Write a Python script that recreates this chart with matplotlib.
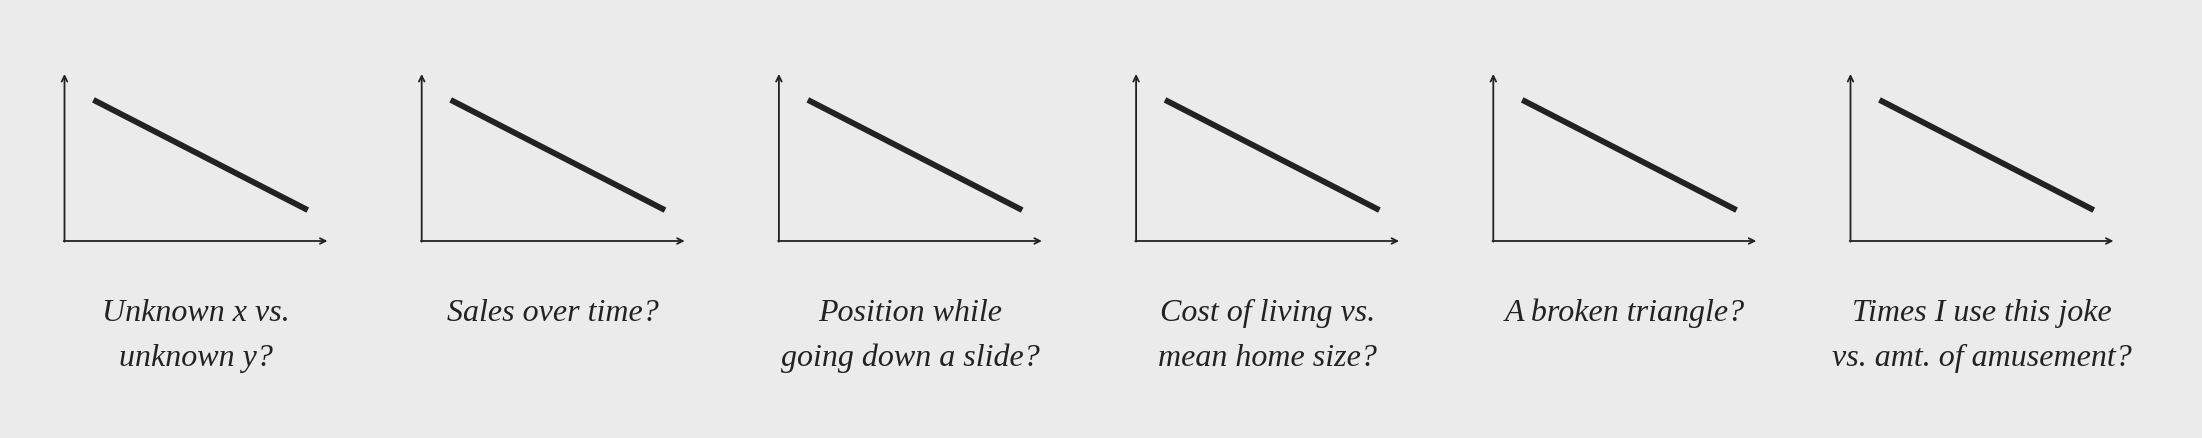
import matplotlib.pyplot as plt

# ------------------------------
# Data
# ------------------------------

captions = [
    ["Unknown x vs.", "unknown y?"],
    ["Sales over time?"],
    ["Position while", "going down a slide?"],
    ["Cost of living vs.", "mean home size?"],
    ["A broken triangle?"],
    ["Times I use this joke", "vs. amt. of amusement?"],
]
line_x = [0.11, 0.925]
line_y = [0.845, 0.185]

bg = "#ebebeb"
ink = "#222222"

# ------------------------------
# Figure
# ------------------------------

W, H = 2202, 438
fig = plt.figure(figsize=(W / 100, H / 100), dpi=100, facecolor=bg)

x0, step, aw = 64.5, 357.2, 263
y_axis, y_top = 241, 74
baselines = [321, 366]

for i, cap in enumerate(captions):
    left = x0 + i * step
    ax = fig.add_axes([left / W, 1 - y_axis / H, aw / W, (y_axis - y_top) / H])
    ax.set_xlim(0, 1)
    ax.set_ylim(0, 1)
    ax.axis("off")
    ax.plot(line_x, line_y, color=ink, lw=4.2, solid_capstyle="butt")
    arrow = dict(arrowstyle="->", lw=1.3, color=ink, shrinkA=0, shrinkB=0,
                 mutation_scale=10)
    ax.annotate("", xy=(0, 1), xytext=(0, -0.004), xycoords="axes fraction",
                arrowprops=arrow, annotation_clip=False)
    ax.annotate("", xy=(1, 0), xytext=(-0.003, 0), xycoords="axes fraction",
                arrowprops=arrow, annotation_clip=False)
    cx = (left + aw / 2) / W
    for j, txt in enumerate(cap):
        fig.text(cx, 1 - baselines[j] / H, txt, ha="center", va="baseline",
                 family="Liberation Serif", style="italic", fontsize=23,
                 color=ink)

fig.savefig("out.png", dpi=100, facecolor=bg)
